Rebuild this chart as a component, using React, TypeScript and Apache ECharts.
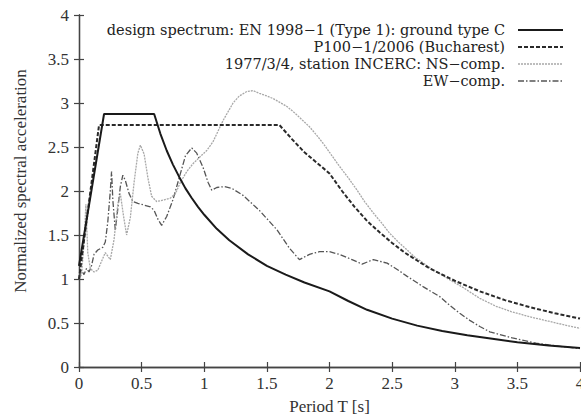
import React, { useEffect, useRef } from "react";
import * as echarts from "echarts";

// ---- Data ----
const xTicks = [0, 0.5, 1, 1.5, 2, 2.5, 3, 3.5, 4];
const yTicks = [0, 0.5, 1, 1.5, 2, 2.5, 3, 3.5, 4];

const seriesNames = [
  "design spectrum: EN 1998\u22121 (Type 1): ground type C",
  "P100\u22121/2006 (Bucharest)",
  "1977/3/4, station INCERC: NS\u2212comp.",
  "EW\u2212comp.",
];

// EN 1998-1 Type 1, ground C
const ec8: number[][] = [
  [0, 1.15], [0.2, 2.875], [0.6, 2.875], [0.65, 2.65], [0.7, 2.46], [0.75, 2.3],
  [0.8, 2.16], [0.85, 2.03], [0.9, 1.92], [0.95, 1.82], [1.0, 1.73], [1.1, 1.57],
  [1.2, 1.44], [1.35, 1.28], [1.5, 1.15], [1.65, 1.05], [1.8, 0.96], [2.0, 0.86],
  [2.15, 0.75], [2.3, 0.65], [2.5, 0.55], [2.7, 0.47], [2.9, 0.41], [3.1, 0.36],
  [3.3, 0.32], [3.5, 0.28], [3.75, 0.245], [4.0, 0.215],
];

// P100-1/2006 Bucharest
const p100: number[][] = [
  [0, 1.0], [0.16, 2.75], [1.6, 2.75], [1.7, 2.59], [1.8, 2.44], [1.9, 2.32],
  [2.0, 2.2], [2.1, 2.0], [2.2, 1.82], [2.3, 1.66], [2.4, 1.53], [2.5, 1.41],
  [2.6, 1.3], [2.7, 1.21], [2.8, 1.12], [2.9, 1.05], [3.0, 0.98], [3.2, 0.86],
  [3.4, 0.76], [3.6, 0.68], [3.8, 0.61], [4.0, 0.55],
];

// 1977 Vrancea, INCERC, NS component
const ns: number[][] = [
  [0, 1.0], [0.02, 1.05], [0.04, 1.4], [0.055, 1.85], [0.07, 1.3], [0.09, 1.12],
  [0.12, 1.08], [0.15, 1.1], [0.18, 1.2], [0.21, 1.3], [0.25, 1.22], [0.28, 1.45],
  [0.31, 1.85], [0.33, 1.97], [0.355, 1.72], [0.38, 1.5], [0.41, 1.7], [0.44, 2.1],
  [0.47, 2.43], [0.49, 2.52], [0.52, 2.42], [0.55, 2.15], [0.58, 1.94], [0.62, 1.88],
  [0.68, 1.9], [0.73, 1.92], [0.77, 1.97], [0.81, 2.1], [0.86, 2.22], [0.91, 2.31],
  [0.96, 2.38], [1.02, 2.46], [1.07, 2.56], [1.11, 2.68], [1.15, 2.8], [1.19, 2.9],
  [1.23, 3.0], [1.28, 3.08], [1.34, 3.13], [1.39, 3.14], [1.44, 3.11], [1.5, 3.08],
  [1.55, 3.05], [1.6, 3.01], [1.66, 2.96], [1.72, 2.89], [1.78, 2.81], [1.84, 2.73],
  [1.9, 2.63], [1.95, 2.54], [2.02, 2.4], [2.08, 2.28], [2.15, 2.15], [2.22, 2.01],
  [2.28, 1.88], [2.35, 1.75], [2.42, 1.63], [2.48, 1.52], [2.55, 1.42], [2.62, 1.33],
  [2.68, 1.25], [2.75, 1.18], [2.82, 1.11], [2.88, 1.06], [2.95, 1.0], [3.07, 0.9],
  [3.2, 0.78], [3.33, 0.69], [3.45, 0.63], [3.6, 0.57], [3.75, 0.52], [3.9, 0.47],
  [4.0, 0.44],
];

// 1977 Vrancea, INCERC, EW component
const ew: number[][] = [
  [0, 1.0], [0.02, 1.1], [0.04, 1.05], [0.06, 1.12], [0.08, 1.08], [0.1, 1.15],
  [0.12, 1.28], [0.15, 1.33], [0.19, 1.36], [0.21, 1.42], [0.23, 1.65], [0.25, 2.0],
  [0.26, 2.22], [0.27, 1.9], [0.29, 1.55], [0.31, 1.8], [0.33, 2.05], [0.35, 2.18],
  [0.37, 2.12], [0.4, 1.97], [0.43, 1.88], [0.47, 1.86], [0.52, 1.84], [0.57, 1.82],
  [0.6, 1.78], [0.63, 1.68], [0.66, 1.61], [0.7, 1.71], [0.75, 1.9], [0.8, 2.15],
  [0.85, 2.4], [0.9, 2.49], [0.94, 2.43], [0.99, 2.27], [1.03, 2.1], [1.06, 2.01],
  [1.1, 2.04], [1.16, 2.05], [1.22, 2.03], [1.31, 1.95], [1.44, 1.78], [1.58, 1.56],
  [1.68, 1.35], [1.76, 1.22], [1.84, 1.28], [1.92, 1.31], [2.0, 1.31], [2.08, 1.28],
  [2.18, 1.22], [2.26, 1.17], [2.35, 1.22], [2.46, 1.18], [2.55, 1.1], [2.62, 1.03],
  [2.75, 0.91], [2.88, 0.8], [2.96, 0.7], [3.04, 0.61], [3.12, 0.53], [3.2, 0.46],
  [3.28, 0.4], [3.46, 0.33], [3.65, 0.27], [3.81, 0.24], [4.0, 0.21],
];

const FONT = "Liberation Serif";
const LEGEND_FONT = "DejaVu Serif";

const lineStyles: any[] = [
  { color: "#1a1a1a", width: 2, type: "solid" },
  { color: "#2a2a2a", width: 2, type: [4, 2] },
  { color: "#a8a8a8", width: 1.3, type: [2, 1] },
  { color: "#555555", width: 1.3, type: [6, 2, 1.5, 2] },
];

export default function App() {
  const ref = useRef<HTMLDivElement>(null);

  useEffect(() => {
    if (!ref.current) return;
    const chart = echarts.init(ref.current, undefined, {
      renderer: "svg",
      width: 581,
      height: 419,
    });

    const axisLine = { show: true, lineStyle: { color: "#444", width: 1.3 } };
    const axisTick = { show: true, inside: true, length: 5, lineStyle: { color: "#444", width: 1.2 } };
    const labelStyle = { fontFamily: FONT, fontSize: 17, color: "#333" };

    const legendRows = [30, 47, 64, 81];
    const legendGraphics: any[] = [];
    seriesNames.forEach((name, i) => {
      legendGraphics.push({
        type: "text",
        x: 505,
        y: legendRows[i],
        style: {
          text: name,
          fontFamily: LEGEND_FONT,
          fontSize: 14.5,
          fill: "#222",
          align: "right",
          verticalAlign: "middle",
        },
      });
      legendGraphics.push({
        type: "line",
        shape: { x1: 518, y1: legendRows[i], x2: 563, y2: legendRows[i] },
        style: {
          stroke: lineStyles[i].color,
          lineWidth: lineStyles[i].width,
          lineDash: lineStyles[i].type === "solid" ? null : lineStyles[i].type,
        },
      });
    });

    const datasets = [ec8, p100, ns, ew];
    const order = [2, 3, 1, 0];

    chart.setOption({
      animation: false,
      backgroundColor: "#fff",
      textStyle: { fontFamily: FONT },
      grid: {
        left: 79,
        right: 1,
        top: 15,
        bottom: 52,
        containLabel: false,
        outerBoundsMode: "none",
      },
      xAxis: [
        {
          type: "value",
          min: 0,
          max: 4,
          interval: 0.5,
          position: "bottom",
          axisLine,
          axisTick,
          splitLine: { show: false },
          axisLabel: { ...labelStyle, margin: 8, showMaxLabel: true },
          name: "Period T [s]",
          nameLocation: "middle",
          nameGap: 31,
          nameTextStyle: { fontFamily: FONT, fontSize: 17, color: "#333" },
        },
        {
          type: "value",
          min: 0,
          max: 4,
          interval: 0.5,
          position: "top",
          axisLine,
          axisTick,
          splitLine: { show: false },
          axisLabel: { show: false },
        },
      ],
      yAxis: [
        {
          type: "value",
          min: 0,
          max: 4,
          interval: 0.5,
          position: "left",
          axisLine,
          axisTick,
          splitLine: { show: false },
          axisLabel: { ...labelStyle, margin: 10 },
        },
        {
          type: "value",
          min: 0,
          max: 4,
          interval: 0.5,
          position: "right",
          axisLine,
          axisTick,
          splitLine: { show: false },
          axisLabel: { show: false },
        },
      ],
      graphic: [
        {
          type: "text",
          x: 20,
          y: 181,
          rotation: Math.PI / 2,
          style: {
            text: "Normalized spectral acceleration",
            fontFamily: FONT,
            fontSize: 17,
            fill: "#333",
            align: "center",
            verticalAlign: "middle",
          },
        },
        ...legendGraphics,
      ],
      series: order.map((i) => ({
        name: seriesNames[i],
        type: "line",
        xAxisIndex: 0,
        yAxisIndex: 0,
        data: datasets[i],
        showSymbol: false,
        symbol: "none",
        smooth: false,
        lineStyle: lineStyles[i],
        z: 2 + (3 - i),
      })),
    });

    return () => chart.dispose();
  }, []);

  return (
    <div
      ref={ref}
      style={{ position: "fixed", left: 0, top: 0, width: 581, height: 419 }}
    />
  );
}
